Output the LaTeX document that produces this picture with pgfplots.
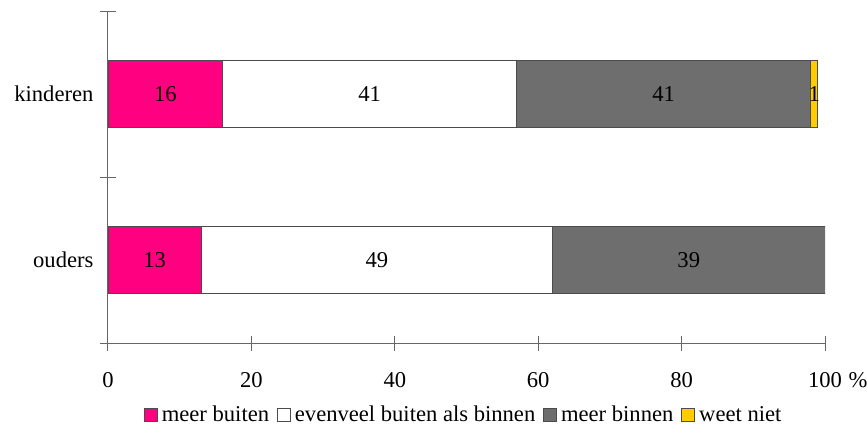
\documentclass[border=0pt]{standalone}
\usepackage{fontspec}
\setmainfont{Liberation Serif}
\usepackage{pgfplots}
\pgfplotsset{compat=1.18}
\definecolor{cmag}{HTML}{FF0080}
\definecolor{cgray}{HTML}{6E6E6E}
\definecolor{cyel}{HTML}{FFCC00}
\begin{document}
\begin{tikzpicture}[font=\fontsize{11.3}{13}\selectfont]
\useasboundingbox (0,0) rectangle (433.5pt,214.5pt);
\begin{axis}[
  name=main,
  at={(54pt,43pt)}, anchor=south west,
  scale only axis, width=358.5pt, height=166pt,
  xbar stacked, bar width=0.4,
  xmin=0, xmax=100, ymin=0.5, ymax=2.5,
  axis x line*=bottom, axis y line*=left,
  axis line style={-, black!60, line width=0.5pt},
  xtick={0,20,...,100},
  ytick={1,2}, yticklabels={ouders,kinderen},
  minor ytick={0.5,1.5,2.5},
  tick align=center,
  major tick length=7.5pt, minor tick length=7.5pt,
  tick style={black!60, line width=0.5pt},
  major y tick style={draw=none},
  /pgf/number format/assume math mode=true,
  tick label style={font=\fontsize{11.3}{13}\selectfont},
  xticklabel style={yshift=-7.5pt},
  legend style={at={(0.4975,-0.217)}, anchor=center, draw=none, fill=none,
    legend columns=4, font=\fontsize{11.3}{13}\selectfont,
    /tikz/every even column/.append style={column sep=2pt}},
  legend image code/.code={\draw[#1, draw=black!70, line width=0.4pt] (0pt,-3pt) rectangle (6.5pt,3.5pt);},
]
\addplot[fill=cmag, draw=black!70, line width=0.4pt] coordinates {(13,1) (16,2)};
\addplot[fill=white, draw=black!70, line width=0.4pt] coordinates {(49,1) (41,2)};
\addplot[fill=cgray, draw=black!70, line width=0.4pt] coordinates {(39,1) (41,2)};
\addplot[fill=cyel, draw=black!70, line width=0.4pt] coordinates {(0,1) (1,2)};
\legend{meer buiten, evenveel buiten als binnen, meer binnen, weet niet}
\end{axis}
\begin{axis}[
  at={(54pt,43pt)}, anchor=south west,
  scale only axis, width=358.5pt, height=166pt,
  xmin=0, xmax=100, ymin=0.5, ymax=2.5,
  hide axis, clip=false,
  nodes near coords, point meta=explicit symbolic,
  every node near coord/.style={anchor=center, font=\fontsize{11.3}{13}\selectfont, inner sep=0pt},
]
\addplot[only marks, mark=none] coordinates {
  (8,2)[16] (36.5,2)[41] (77.5,2)[41] (98.5,2)[1]
  (6.5,1)[13] (37.5,1)[49] (81,1)[39]};
\end{axis}
\node[anchor=base] at ([xshift=16.5pt, yshift=-22pt]main.south east) {\%};
\end{tikzpicture}
\end{document}
